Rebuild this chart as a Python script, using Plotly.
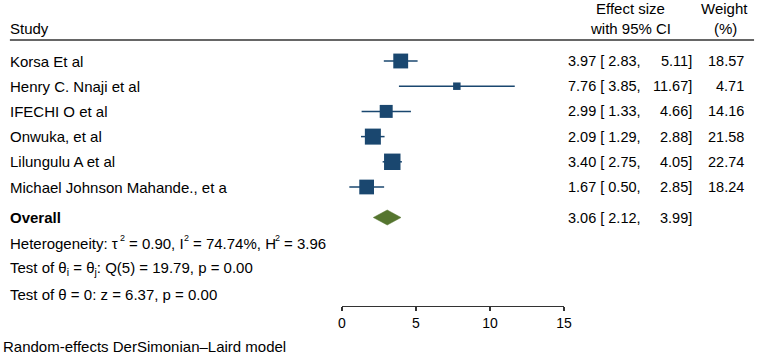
import math
import plotly.graph_objects as go

# ---- data ----
studies = ["Korsa Et al", "Henry C. Nnaji et al", "IFECHI O et al", "Onwuka, et al",
           "Lilungulu A et al", "Michael Johnson Mahande., et a"]
es = [3.97, 7.76, 2.99, 2.09, 3.40, 1.67]
ci_lo = [2.83, 3.85, 1.33, 1.29, 2.75, 0.50]
ci_hi = [5.11, 11.67, 4.66, 2.88, 4.05, 2.85]
weights = [18.57, 4.71, 14.16, 21.58, 22.74, 18.24]
overall_es = 3.06
overall_lo = 2.12
overall_hi = 3.99
tau2, i2, h2 = 0.90, 74.74, 3.96
q_stat, q_df, q_p = 19.79, 5, 0.00
z_stat, z_p = 6.37, 0.00
x_ticks = [0, 5, 10, 15]

# ---- layout constants (pixels) ----
W, H = 765, 355
X0, X1 = 343.3, 569.0
ROW0, ROWSTEP = 61.0, 25.2
Y_OVERALL = 217.5
Y_STATS = [243.0, 268.5, 294.0]
AXIS_Y = 306.0
FONT = "Liberation Sans, Arial, Helvetica, sans-serif"
FS = 15
FS_NUM = 14.5
NAVY = "#1a476f"
GREEN = "#55752f"
TXT = "#000000"
LX = 5.5          # left column anchor

row_y = [ROW0 + ROWSTEP * i for i in range(len(studies))]

fig = go.Figure()

# CI lines
cx, cy = [], []
for l, h, y in zip(ci_lo, ci_hi, row_y):
    cx += [l, h, None]
    cy += [y, y, None]
fig.add_trace(go.Scatter(x=cx, y=cy, mode="lines",
                         line=dict(color=NAVY, width=1.5), hoverinfo="skip"))

# weighted squares
fig.add_trace(go.Scatter(x=es, y=row_y, mode="markers",
                         marker=dict(symbol="square", color=NAVY, opacity=1,
                                     size=[3.45 * math.sqrt(w) for w in weights],
                                     line=dict(width=0)),
                         hoverinfo="skip"))

# overall diamond
hh = 7.5
fig.add_trace(go.Scatter(x=[overall_lo, overall_es, overall_hi, overall_es, overall_lo],
                         y=[Y_OVERALL, Y_OVERALL - hh, Y_OVERALL, Y_OVERALL + hh, Y_OVERALL],
                         mode="lines", fill="toself", fillcolor=GREEN,
                         line=dict(color=GREEN, width=0.5), hoverinfo="skip"))

ann = []


def txt(x, y, s, anchor="left", bold=False, size=FS):
    ann.append(dict(x=x / W, y=y, xref="paper", yref="y", text=(f"<b>{s}</b>" if bold else s),
                    showarrow=False, xanchor=anchor, yanchor="middle",
                    font=dict(family=FONT, size=size, color=TXT), borderpad=0))


# headers
txt(LX, 28, "Study")
txt(636, 8, "Effect size", "center")
txt(636, 28, "with 95% CI", "center")
txt(732, 8, "Weight", "center")
txt(733, 28, "(%)", "center")

EST_R, HI_R, WT_R = 648.5, 700.2, 752.8

for s, e, l, h, w, y in zip(studies, es, ci_lo, ci_hi, weights, row_y):
    txt(LX, y, s)
    txt(EST_R, y, f"{e:.2f} [ {l:.2f},", "right", size=FS_NUM)
    txt(HI_R, y, f"{h:.2f}]", "right", size=FS_NUM)
    txt(WT_R, y, f"{w:.2f}", "right", size=FS_NUM)

txt(LX, Y_OVERALL, "Overall", bold=True)
txt(EST_R, Y_OVERALL, f"{overall_es:.2f} [ {overall_lo:.2f},", "right", size=FS_NUM)
txt(HI_R, Y_OVERALL, f"{overall_hi:.2f}]", "right", size=FS_NUM)

# heterogeneity line built from segments with small raised "2"s
het_y = Y_STATS[0]
het_segments = [(LX, "Heterogeneity: τ"), (126, f"= {tau2:.2f}, I"),
                (191, f"= {i2:.2f}%, H"), (283, f"= {h2:.2f}")]
for x, s in het_segments:
    txt(x, het_y, s)
for x in (116.5, 182, 274.5):
    txt(x, het_y - 5.5, "2", size=9)

txt(LX, Y_STATS[1], f"Test of θ<sub>i</sub> = θ<sub>j</sub>: Q({q_df}) = {q_stat:.2f}, p = {q_p:.2f}")
txt(LX, Y_STATS[2], f"Test of θ = 0: z = {z_stat:.2f}, p = {z_p:.2f}")

txt(-2, 346.5, "Random-effects DerSimonian–Laird model")

shapes = [dict(type="line", xref="paper", yref="y", x0=6 / W, x1=762 / W, y0=40, y1=40,
               line=dict(color="#333333", width=1.4))]

fig.update_layout(
    width=W, height=H, autosize=False,
    margin=dict(l=0, r=0, t=0, b=0, pad=0),
    paper_bgcolor="white", plot_bgcolor="white",
    showlegend=False, hovermode=False,
    annotations=ann, shapes=shapes,
    xaxis=dict(domain=[X0 / W, X1 / W], range=[0, 15], anchor="free",
               position=(H - AXIS_Y) / H, showgrid=False, zeroline=False,
               showline=True, linecolor="#333333", linewidth=1.2,
               ticks="outside", ticklen=4, tickwidth=1.2, tickcolor="#333333",
               tickvals=x_ticks, ticktext=[str(t) for t in x_ticks],
               tickfont=dict(family=FONT, size=14, color=TXT), fixedrange=True),
    yaxis=dict(domain=[0, 1], range=[H, 0], visible=False, fixedrange=True),
)

fig.write_html("out.html", config={"displayModeBar": False, "staticPlot": True},
               post_script="document.body.style.margin='0';document.body.style.overflow='hidden';")
